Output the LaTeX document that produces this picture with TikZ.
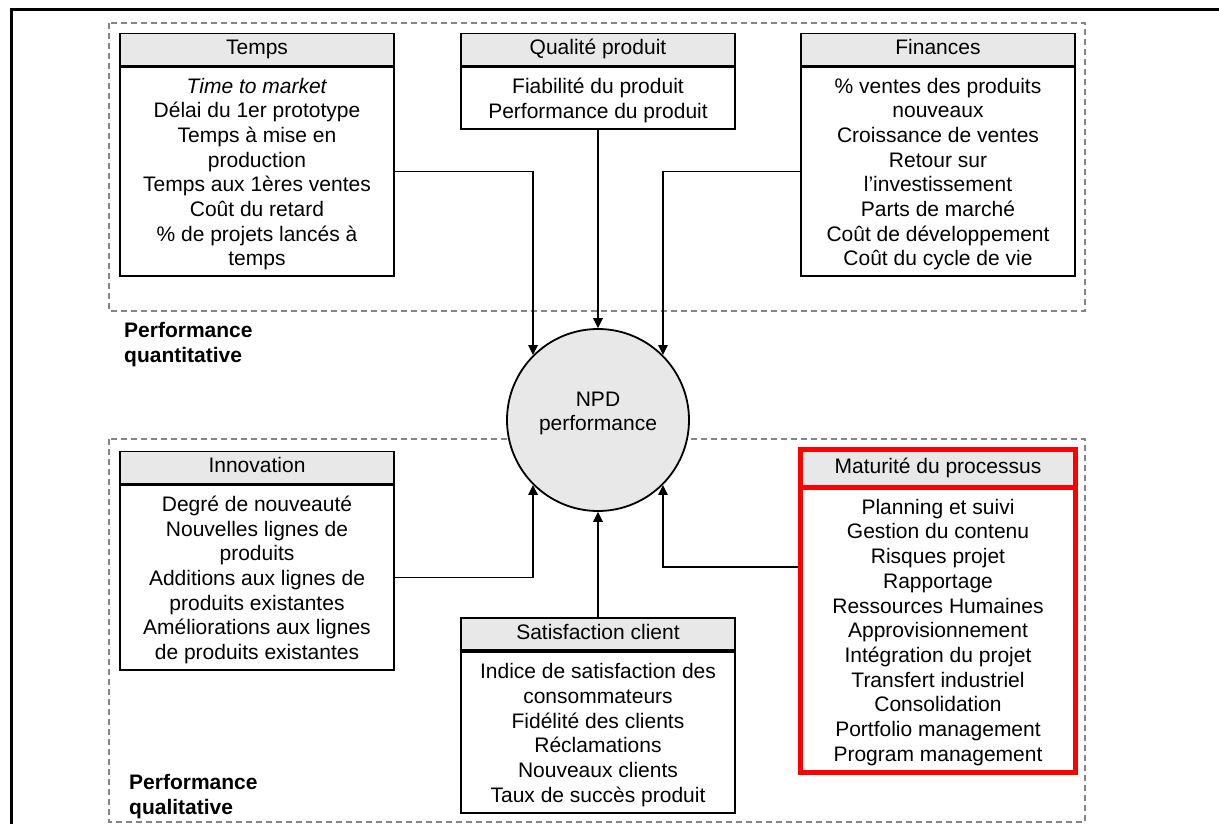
\documentclass[tikz,border=0pt]{standalone}
\usepackage{fontspec}
\setmainfont{Liberation Sans}
\usetikzlibrary{arrows.meta}
\definecolor{hdr}{HTML}{E8E8E8}
\definecolor{dashgray}{HTML}{858585}
\definecolor{hired}{HTML}{FF0000}
% fixed top and bottom struts so every text block is centred the same way
\newcommand\boxlines[1]{\rule{0pt}{21pt}#1\rule[-5pt]{0pt}{5pt}}
\begin{document}
\begin{tikzpicture}[x=1pt,y=-1pt,
  every node/.style={font=\fontsize{21}{24.7}\selectfont},
  head/.style={draw, line width=1.8pt, fill=hdr, inner sep=0pt,
    minimum width=274.5pt, minimum height=32pt,
    execute at begin node={\rule[-6pt]{0pt}{22pt}}},
  body/.style={draw, line width=1.8pt, fill=white, inner sep=0pt,
    minimum width=274.5pt, align=center},
  redhead/.style={head, draw=hired, line width=5pt, minimum width=275pt},
  redbody/.style={body, draw=hired, line width=5pt, minimum width=275pt},
  group/.style={draw=dashgray, line width=1.4pt, dash pattern=on 6pt off 4pt},
  conn/.style={line width=1.6pt, -{Triangle[length=10pt,width=9.5pt]}},
  hub/.style={circle, draw, line width=1.8pt, fill=hdr, minimum size=182pt, inner sep=0pt},
  grouplabel/.style={anchor=west, align=left, inner sep=0pt, font=\fontsize{21}{25}\selectfont\bfseries}
]
\useasboundingbox (0,0) rectangle (1219,824);
\clip (0,0) rectangle (1219,824);

% outer frame
\draw[line width=3pt] (11,10) rectangle (1240,845);

% quantitative / qualitative groups
\draw[group] (109,23) rectangle (1085,311);
\draw[group] (109,439) rectangle (1085,822);
\node[grouplabel] (lquant) at (124,345) {Performance\\quantitative};
\node[grouplabel] (lqual) at (129,797) {Performance\\qualitative};

% quantitative indicators
\node[head] (tempsh) at (257,49.5) {Temps};
\node[body, minimum height=209.5pt] (temps) at (257,171.5)
  {\boxlines{\textit{Time to market}\\Délai du 1er prototype\\Temps à mise en\\production\\Temps aux 1ères ventes\\Coût du retard\\\% de projets lancés à\\temps}};

\node[head] (qualh) at (598,49.5) {Qualité produit};
\node[body, minimum height=62.5pt] (qual) at (598,98)
  {\boxlines{Fiabilité du produit\\Performance du produit}};

\node[head] (finh) at (938,49.5) {Finances};
\node[body, minimum height=209.5pt] (fin) at (938,171.5)
  {\boxlines{\% ventes des produits\\nouveaux\\Croissance de ventes\\Retour sur\\l’investissement\\Parts de marché\\Coût de développement\\Coût du cycle de vie}};

% qualitative indicators
\node[head] (innovh) at (257,467.5) {Innovation};
\node[body, minimum height=185.5pt] (innov) at (257,577.5)
  {\boxlines{Degré de nouveauté\\Nouvelles lignes de\\produits\\Additions aux lignes de\\produits existantes\\Améliorations aux lignes\\de produits existantes}};

\node[head, minimum height=32.5pt] (sath) at (598,634) {Satisfaction client};
\node[body, minimum height=161.5pt] (sat) at (598,732.5)
  {\boxlines{Indice de satisfaction des\\consommateurs\\Fidélité des clients\\Réclamations\\Nouveaux clients\\Taux de succès produit}};

\node[redhead, minimum height=37.5pt] (math) at (938,468.25) {Maturité du processus};
\node[redbody, minimum height=285.5pt] (mat) at (938,629.75)
  {\boxlines{Planning et suivi\\Gestion du contenu\\Risques projet\\Rapportage\\Ressources Humaines\\Approvisionnement\\Intégration du projet\\Transfert industriel\\Consolidation\\Portfolio management\\Program management}};

% central node
\node[hub] (npd) at (598,420) {};
\node[align=center, inner sep=0pt] (npdtext) at ([yshift=6.5pt]npd.center) {NPD\\performance};

% connectors into the hub
\draw[conn] (temps.east) -| (npd.135);
\draw[conn] (qual.south) -- (npd.north);
\draw[conn] (fin.west) -| (npd.45);
\draw[conn] (innov.east) -| (npd.-135);
\draw[conn] (sath.north) -- (npd.south);
\draw[conn] ([yshift=62.75pt]mat.west) -| (npd.-45);
\end{tikzpicture}
\end{document}
